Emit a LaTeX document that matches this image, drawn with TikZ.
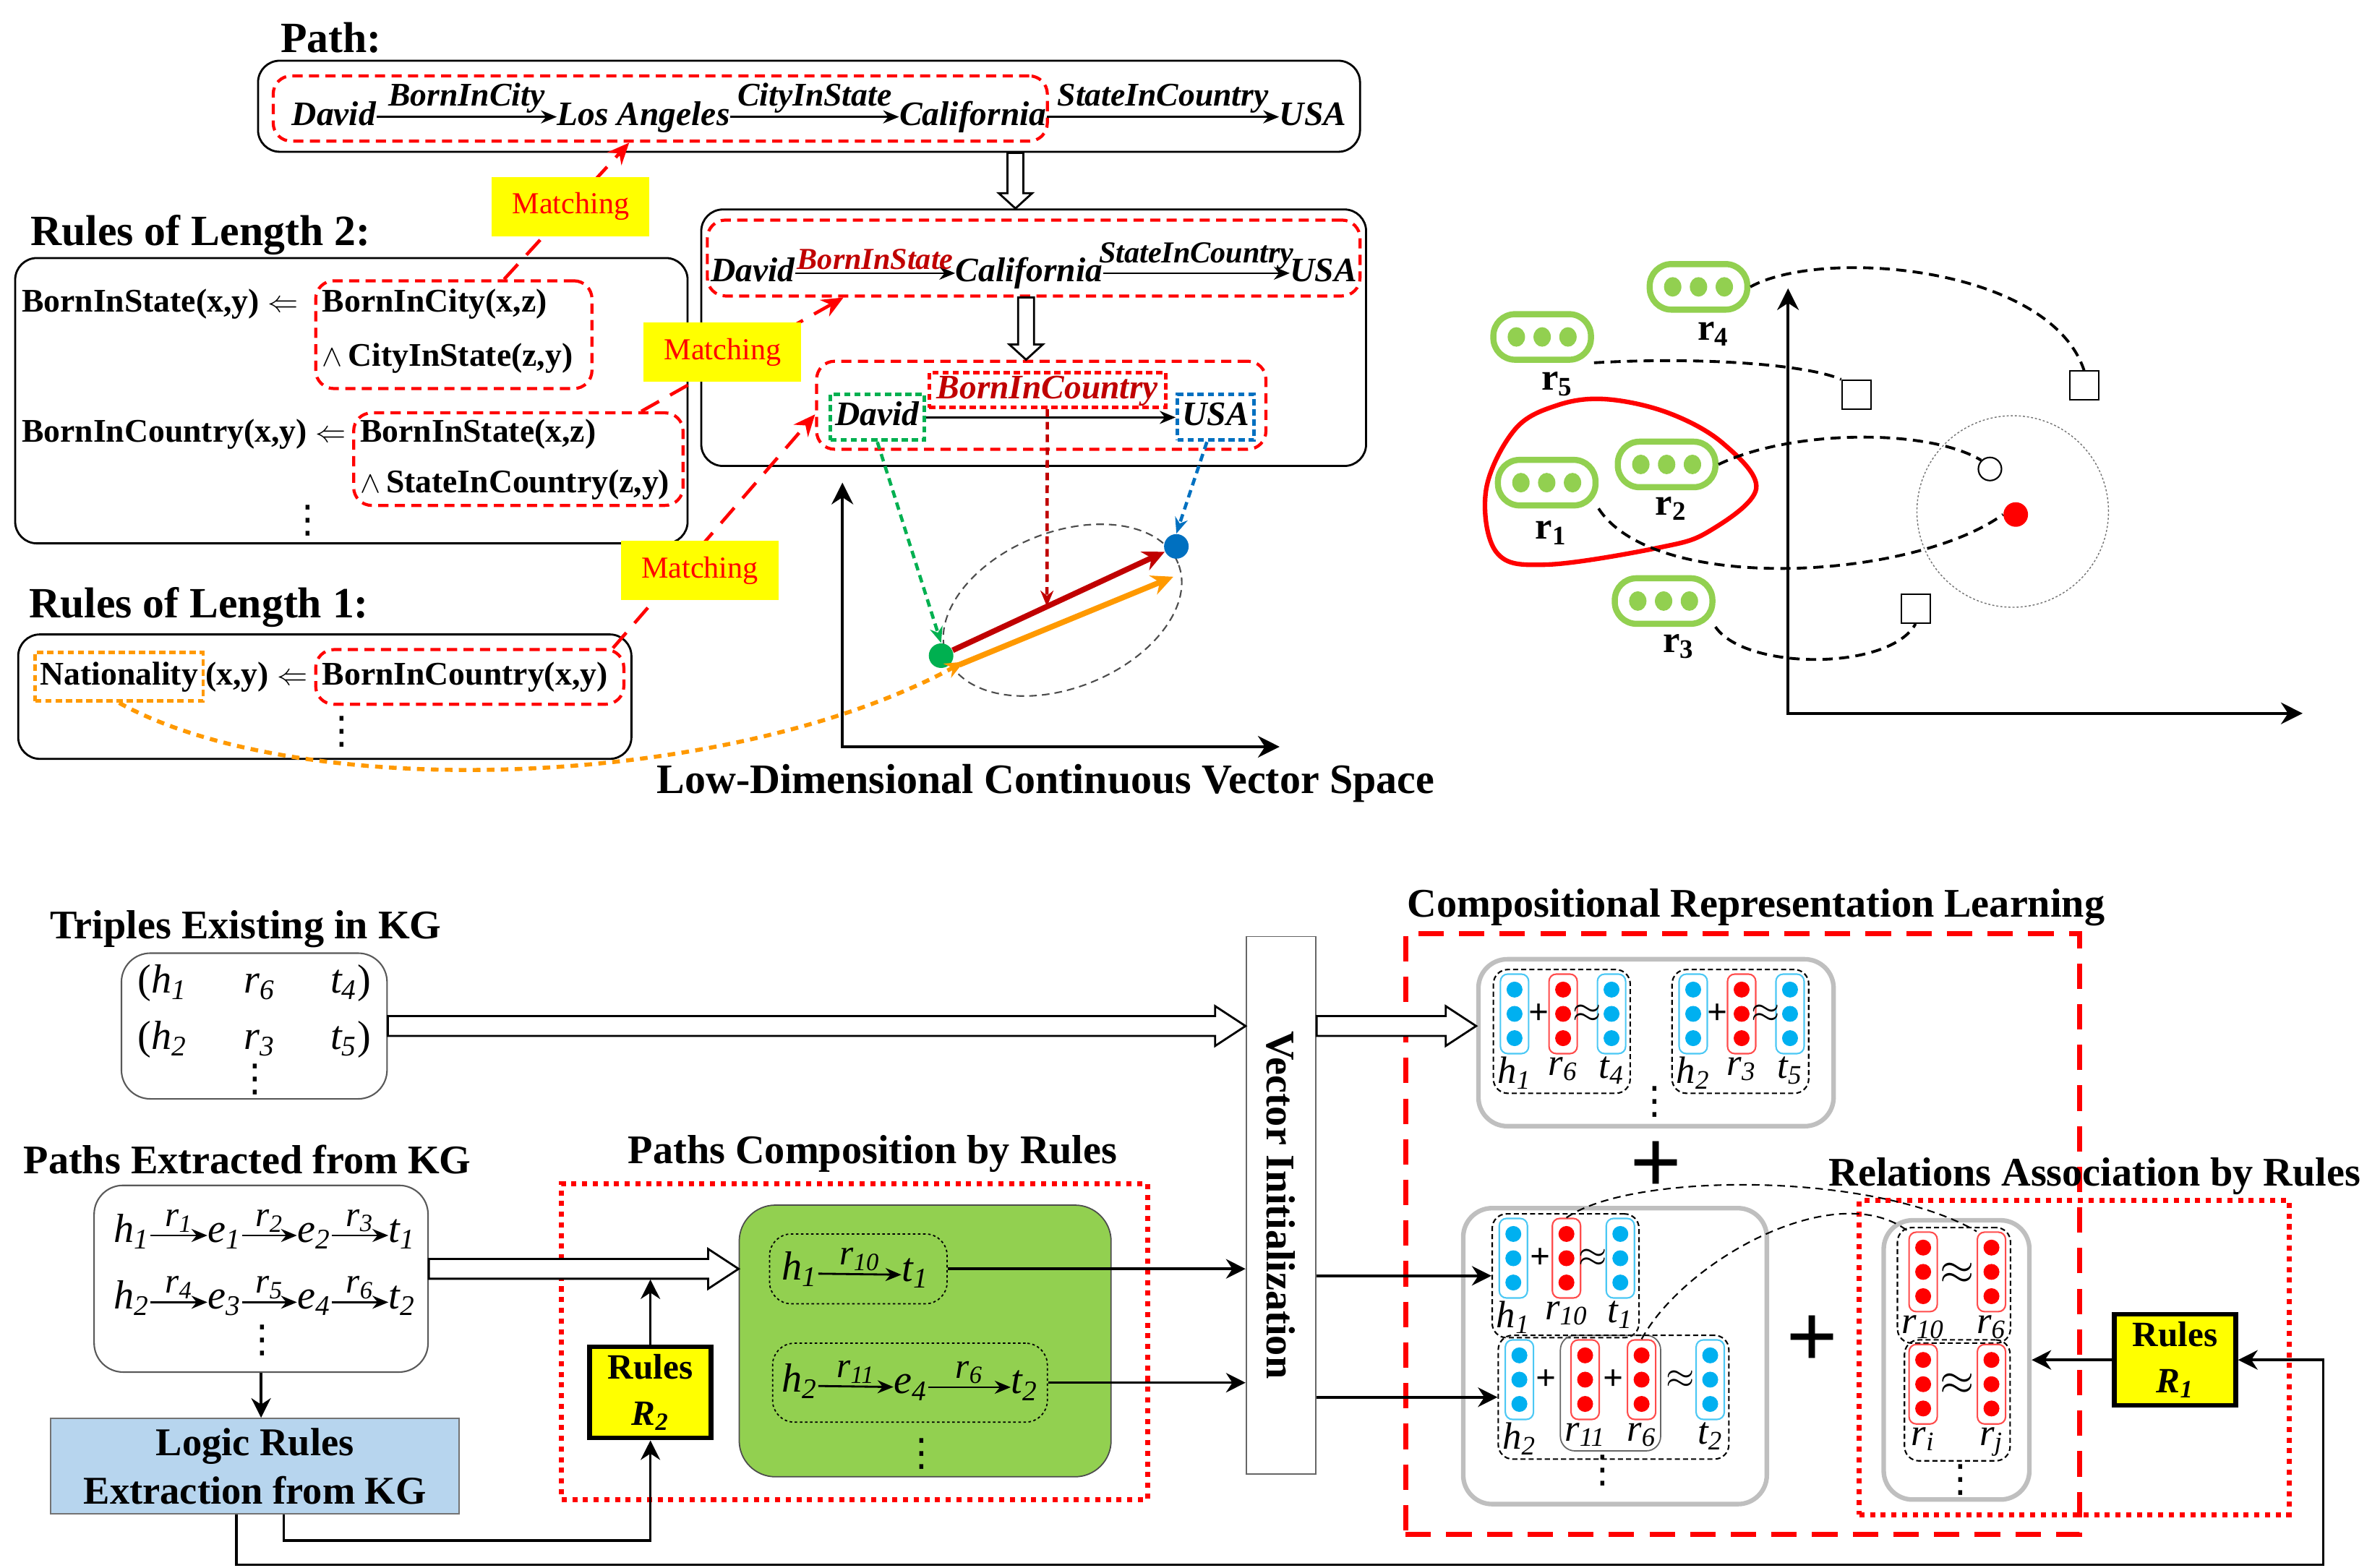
\documentclass[tikz,border=0pt]{standalone}
\usepackage{fontspec}
\setmainfont{Liberation Serif}
\newfontfamily\dotsfont{DejaVu Sans}
\usepackage{tikz}
\usetikzlibrary{positioning, shapes.geometric, calc, arrows.meta, fit}
\definecolor{kgRed}{RGB}{255, 0, 0}
\definecolor{kgDark}{RGB}{192, 0, 0}
\definecolor{kgGreen}{RGB}{146, 208, 80}
\definecolor{kgLeaf}{RGB}{0, 176, 80}
\definecolor{kgBlue}{RGB}{0, 112, 192}
\definecolor{kgCyan}{RGB}{0, 176, 240}
\definecolor{kgOrange}{RGB}{255, 153, 0}
\definecolor{kgYellow}{RGB}{255, 255, 0}
\definecolor{kgSky}{RGB}{183, 213, 238}
\definecolor{kgGray}{RGB}{191, 191, 191}

\newcommand{\ent}[2]{\textit{#1\textsubscript{#2}}}
\newcommand{\vd}{{\dotsfont\mdseries\upshape ⋮}}
% block arrow: from, to, half shaft, half head, head length
\newcommand{\hollowarrow}[5]{%
  \coordinate (hb) at ($(#2)!#5!(#1)$);
  \draw[hollow] ($(#1)!#3!90:(#2)$) -- ($(hb)!#3!-90:(#1)$) -- ($(hb)!#4!-90:(#1)$) -- (#2)
    -- ($(hb)!#4!90:(#1)$) -- ($(hb)!#3!90:(#1)$) -- ($(#1)!#3!-90:(#2)$) -- cycle;
}
% embedding column: name, position, colour, label
\newcommand{\embvec}[4]{%
  \node[vecbox=#3] (#1) at (#2) {};
  \foreach \k in {-1,0,1}
    \fill[#3] ($(#1)+(0,\k*16)$) circle[radius=1.1mm];
  \node[veclbl, below=0.3mm of #1] (#1l) {#4};
}
\newcommand{\dotcapsule}[2]{%
  \node[capsule] (#1) at (#2) {};
  \foreach \k in {-1,0,1}
    \fill[kgGreen] ($(#1)+(\k*17,0)$) circle[x radius=1.2mm, y radius=1.35mm];
}

\tikzset{
    base/.style={
        inner sep=0pt,
        align=center
    },
    title/.style={base, font=\fontsize{16}{18}\selectfont\bfseries},
    heading/.style={base, font=\fontsize{17}{19}\selectfont\bfseries},
    frame/.style={draw, line width=0.8pt, rounded corners=3mm, inner sep=0pt},
    soft/.style={draw=black!65, line width=0.6pt, rounded corners=4mm, inner sep=0pt},
    shell/.style={draw=kgGray, line width=1.8pt, rounded corners=4mm, inner sep=0pt},
    reddash/.style={draw=kgRed, line width=1.2pt, dash pattern=on 4pt off 2.5pt, rounded corners=2.5mm, inner sep=0pt},
    reddots/.style={draw=kgRed, line width=2pt, dash pattern=on 2pt off 2.2pt, inner sep=0pt},
    bigdash/.style={draw=kgRed, line width=2pt, dash pattern=on 10pt off 6pt, inner sep=0pt},
    fact/.style={base, font=\fontsize{13.5}{15}\selectfont\bfseries\itshape, text height=0.33cm, text depth=0.1cm},
    lbl/.style={base, font=\fontsize{13}{15}\selectfont\bfseries\itshape, anchor=south, yshift=1pt},
    horn/.style={base, font=\fontsize{13}{15}\selectfont\bfseries, text height=0.33cm, text depth=0.1cm},
    spot/.style={line width=1.4pt, dash pattern=on 2.5pt off 1.5pt, inner xsep=2pt, minimum height=0.63cm},
    sym/.style={base, font=\fontsize{16}{18}\selectfont, text height=0.3cm, text depth=0.12cm},
    slbl/.style={base, font=\fontsize{14}{16}\selectfont, anchor=south, yshift=1pt},
    veclbl/.style={base, font=\fontsize{15}{17}\selectfont},
    tag/.style={base, fill=kgYellow, text=kgRed, font=\fontsize{12}{14}\selectfont, minimum width=2.18cm, minimum height=0.82cm},
    rel/.style={-{Stealth[length=2.2mm, width=1.8mm]}, line width=0.8pt},
    arr/.style={-{Stealth[length=2.7mm, width=2.7mm]}, line width=1pt},
    axes/.style={{Stealth[length=3mm, width=3mm]}-{Stealth[length=3mm, width=3mm]}, line width=1pt},
    vec/.style={-{Stealth[length=3mm, width=2.8mm]}, line width=2.2pt},
    probe/.style={-{Stealth[length=2.2mm, width=1.8mm]}, line width=1.3pt, dash pattern=on 3pt off 2pt},
    match/.style={-{Stealth[length=3mm, width=2.6mm]}, draw=kgRed, line width=1.3pt, dash pattern=on 8pt off 5pt},
    trail/.style={-{Stealth[length=2.6mm, width=2.2mm]}, draw=kgOrange, line width=1.6pt, dash pattern=on 3pt off 2.5pt},
    link/.style={line width=1.1pt, dash pattern=on 4pt off 2.5pt},
    thinlink/.style={line width=0.6pt, dash pattern=on 3pt off 2pt},
    hollow/.style={draw, fill=white, line width=0.8pt, line join=miter},
    pointdot/.style={circle, inner sep=0pt, minimum size=3.4mm},
    capsule/.style={draw=kgGreen, fill=white, line width=2.4pt, rounded corners=3mm, minimum width=13.5mm, minimum height=6.3mm, inner sep=0pt},
    square/.style={draw, line width=0.6pt, minimum size=4mm, inner sep=0pt, fill=white},
    vecbox/.style={draw=#1!70, line width=0.6pt, rounded corners=1mm, minimum width=3.9mm, minimum height=11mm, inner sep=0pt},
    grp/.style={draw, line width=0.6pt, dash pattern=on 2pt off 1.2pt, rounded corners=2mm, inner sep=1.5pt},
    innerdot/.style={draw, line width=0.5pt, dash pattern=on 1pt off 1pt, rounded corners=3mm, inner sep=0pt},
    greenbox/.style={draw=black!70, fill=kgGreen, line width=0.5pt, rounded corners=5mm, inner sep=0pt},
    rulebox/.style={base, draw, fill=kgYellow, line width=1.8pt, minimum width=16.8mm, minimum height=12.6mm, font=\fontsize{14}{18}\selectfont\bfseries},
    logic/.style={base, draw=black!55, fill=kgSky, line width=0.6pt, minimum width=56.5mm, minimum height=13.2mm, font=\fontsize{15.5}{19}\selectfont\bfseries},
    bigplus/.style={base, font=\fontsize{36}{36}\selectfont\bfseries},
    op/.style={base, font=\fontsize{14}{15}\selectfont\bfseries},
    rname/.style={base, font=\fontsize{15}{17}\selectfont\bfseries},
    vdot/.style={base, font=\fontsize{15}{15}\selectfont}
}

\begin{document}
\begin{tikzpicture}[x=0.021cm, y=-0.021cm]
  \useasboundingbox (0,0) rectangle (1568,1033);

  % path and what it composes into
  \node[heading] (pathtitle) at (218,25) {Path:};
  \node[frame, fit={(170,40) (896,100)}] (pathbox) {};
  \node[reddash, fit={(180,50) (690,93)}] (pathred) {};
  \node[fact] (pDavid) at (220,77) {David};
  \node[fact] (pLA) at (424,77) {Los Angeles};
  \node[fact] (pCal) at (641,77) {California};
  \node[fact] (pUSA) at (865,77) {USA};
  \draw[rel] (pDavid) -- node[lbl] {BornInCity} (pLA);
  \draw[rel] (pLA) -- node[lbl] {CityInState} (pCal);
  \draw[rel] (pCal) -- node[lbl] {StateInCountry} (pUSA);

  \node[frame, fit={(462,138) (900,307)}] (midbox) {};
  \node[reddash, fit={(466,145) (896,195)}] (midred) {};
  \node[fact] (mDavid) at (496,180) {David};
  \node[fact] (mCal) at (678,180) {California};
  \node[fact] (mUSA) at (872,180) {USA};
  \draw[rel] (mDavid) -- node[lbl, font=\fontsize{12}{14}\selectfont\bfseries\itshape, text=kgDark] {BornInState} (mCal);
  \draw[rel] (mCal) -- node[lbl, font=\fontsize{12}{14}\selectfont\bfseries\itshape] {StateInCountry} (mUSA);

  \node[reddash, fit={(538,238) (834,296)}] (lowred) {};
  \node[fact, spot, draw=kgLeaf] (lDavid) at (578,275) {David};
  \node[fact, spot, draw=kgRed, text=kgDark, minimum height=0.48cm, inner xsep=3pt] (lBIC) at (690,257) {BornInCountry};
  \node[fact, spot, draw=kgBlue] (lUSA) at (801,275) {USA};
  \draw[rel] (lDavid) -- (lUSA);

  \coordinate (d1s) at (pathbox.south -| 669,0);
  \coordinate (d1e) at (midbox.north -| 669,0);
  \hollowarrow{d1s}{d1e}{1.1mm}{2.3mm}{2.1mm}
  \coordinate (d2s) at (midred.south -| 676,0);
  \coordinate (d2e) at (lowred.north -| 676,0);
  \hollowarrow{d2s}{d2e}{1.1mm}{2.3mm}{2.1mm}

  % vector space
  \coordinate (vy) at (555,318);
  \coordinate (vx) at (843,492);
  \draw[axes] (vy) |- (vx);
  \node[draw=black!70, ellipse, rotate=22, thinlink, minimum width=34.5mm, minimum height=21.5mm, inner sep=0pt] (cluster) at (700,402) {};
  \node[pointdot, fill=kgLeaf] (gdot) at (620,432) {};
  \node[pointdot, fill=kgBlue] (bdot) at (775,360) {};
  \draw[vec, kgDark] (gdot) -- (bdot);
  \draw[vec, kgOrange] ($(gdot)+(12,6)$) -- ($(bdot)+(-2,20)$);
  \coordinate (rvhit) at ($(gdot)!0.45!(bdot)$);
  \draw[probe, kgLeaf] (lDavid.south) -- (gdot.north);
  \draw[probe, kgDark] (lBIC.south) -- (rvhit);
  \draw[probe, kgBlue] (lUSA.250) -- (bdot.north);
  \node[title, font=\fontsize{16.5}{18}\selectfont\bfseries] (vslabel) at (689,516) {Low-Dimensional Continuous Vector Space};

  % rules
  \node[heading] (r2title) at (132,155) {Rules of Length 2:};
  \node[frame, fit={(10,170) (453,358)}] (r2box) {};
  \node[horn, anchor=west] (bis) at (14,200) {BornInState(x,y) $\Leftarrow$};
  \node[horn, anchor=west] (bic) at (212,200) {BornInCity(x,z)};
  \node[horn, anchor=west] (cis) at (212,236) {$\wedge$\,CityInState(z,y)};
  \node[reddash, fit={(208,185) (390,256)}] (r2a) {};
  \node[horn, anchor=west] (bcn) at (14,286) {BornInCountry(x,y) $\Leftarrow$};
  \node[horn, anchor=west] (bis2) at (237,286) {BornInState(x,z)};
  \node[horn, anchor=west] (sic) at (237,319) {$\wedge$\,StateInCountry(z,y)};
  \node[reddash, fit={(233,272) (450,333)}] (r2b) {};
  \node[vdot] (r2dots) at (203,343) {\vd};

  \node[heading] (r1title) at (131,400) {Rules of Length 1:};
  \node[frame, fit={(12,418) (416,500)}] (r1box) {};
  \node[horn, anchor=west, draw=kgOrange, spot, inner xsep=2pt, minimum height=0.67cm] (nat) at (22,446) {Nationality};
  \node[horn, anchor=west] (natxy) at (nat.east) {(x,y) $\Leftarrow$};
  \node[horn, anchor=west] (bcn1) at (212,446) {BornInCountry(x,y)};
  \node[reddash, fit={(208,428) (411,464)}] (r1a) {};
  \node[vdot] (r1dots) at (225,482) {\vd};

  \draw[match] ($(r2a.north west)!0.68!(r2a.north east)$) -- ($(pathred.south west)!0.46!(pathred.south east)$);
  \draw[match] ($(r2b.north west)!0.87!(r2b.north east)$) -- ($(midred.south west)!0.21!(midred.south east)$);
  \draw[match] ($(r1a.north west)!0.96!(r1a.north east)$) -- ($(lowred.north west)!0.6!(lowred.south west)$);
  \node[tag] (m1) at (376,136) {Matching};
  \node[tag] (m2) at (476,232) {Matching};
  \node[tag] (m3) at (461,376) {Matching};
  \draw[trail] (nat.south) .. controls (200,530) and (480,520) .. ($(gdot)+(15,4)$);

  % relation embeddings
  \coordinate (sy) at (1178,190);
  \coordinate (sx) at (1517,470);
  \draw[axes] (sy) |- (sx);
  \draw[kgRed, line width=1.8pt] plot[smooth cycle, tension=0.6] coordinates {(1026,267) (1058,263) (1099,272) (1135,292) (1157,322) (1126,350) (1092,361) (1019,372) (986,364) (979,323) (998,283)};
  \node[draw=black!55, circle, minimum size=26.5mm, line width=0.4pt, dash pattern=on 0.8pt off 0.8pt, inner sep=0pt] (halo) at (1326,337) {};
  \dotcapsule{c4}{1119,189}
  \dotcapsule{c5}{1016,222}
  \dotcapsule{c2}{1098,306}
  \dotcapsule{c1}{1019,318}
  \dotcapsule{c3}{1096,396}
  \node[rname] (n4) at ($(c4)+(10,31)$) {r\textsubscript{4}};
  \node[rname] (n5) at ($(c5)+(10,31)$) {r\textsubscript{5}};
  \node[rname] (n2) at ($(c2)+(3,29)$) {r\textsubscript{2}};
  \node[rname] (n1) at ($(c1)+(3,33)$) {r\textsubscript{1}};
  \node[rname] (n3) at ($(c3)+(10,30)$) {r\textsubscript{3}};
  \node[square] (sq4) at (1373,254) {};
  \node[square] (sq5) at (1223,260) {};
  \node[square] (sq3) at (1262,401) {};
  \node[draw, circle, line width=0.6pt, minimum size=3.2mm, inner sep=0pt] (hole) at (1311,309) {};
  \node[pointdot, fill=kgRed] (hit) at (1328,339) {};
  \draw[link] (c4.east) .. controls (1200,163) and (1350,175) .. (sq4.north);
  \draw[link] (c5.south east) .. controls (1120,235) and (1190,240) .. (sq5.north west);
  \draw[link] (c2.east) .. controls (1180,283) and (1270,282) .. (hole.north west);
  \draw[link] (c1.south east) .. controls (1090,392) and (1260,382) .. (hit.west);
  \draw[link] (c3.south east) .. controls (1150,442) and (1245,442) .. (sq3.south);

  % triples and paths from the KG
  \node[title] (trtitle) at (162,612) {Triples Existing in KG};
  \node[soft, fit={(80,628) (255,724)}] (tribox) {};
  \node[sym] (t11) at (107,650) {(\ent{h}{1}};
  \node[sym] (t12) at (171,650) {\ent{r}{6}};
  \node[sym] (t13) at (231,650) {\ent{t}{4})};
  \node[sym] (t21) at (107,687) {(\ent{h}{2}};
  \node[sym] (t22) at (171,687) {\ent{r}{3}};
  \node[sym] (t23) at (231,687) {\ent{t}{5})};
  \node[vdot] (trdots) at (168,711) {\vd};

  \node[title] (pxtitle) at (163,764) {Paths Extracted from KG};
  \node[soft, fit={(62,781) (282,904)}] (pxbox) {};
  \node[sym] (x1) at (87,814) {\ent{h}{1}};
  \node[sym] (x2) at (148,814) {\ent{e}{1}};
  \node[sym] (x3) at (207,814) {\ent{e}{2}};
  \node[sym] (x4) at (265,814) {\ent{t}{1}};
  \draw[rel] (x1) -- node[slbl] {\ent{r}{1}} (x2);
  \draw[rel] (x2) -- node[slbl] {\ent{r}{2}} (x3);
  \draw[rel] (x3) -- node[slbl] {\ent{r}{3}} (x4);
  \node[sym] (y1) at (87,858) {\ent{h}{2}};
  \node[sym] (y2) at (148,858) {\ent{e}{3}};
  \node[sym] (y3) at (207,858) {\ent{e}{4}};
  \node[sym] (y4) at (265,858) {\ent{t}{2}};
  \draw[rel] (y1) -- node[slbl] {\ent{r}{4}} (y2);
  \draw[rel] (y2) -- node[slbl] {\ent{r}{5}} (y3);
  \draw[rel] (y3) -- node[slbl] {\ent{r}{6}} (y4);
  \node[vdot] (pxdots) at (173,883) {\vd};

  \node[logic] (logic) at (168,966) {Logic Rules\\Extraction from KG};
  \draw[arr] (pxbox.south) -- (pxbox.south |- logic.north);

  % paths composition
  \node[title] (pctitle) at (575,760) {Paths Composition by Rules};
  \node[reddots, fit={(370,780) (756,988)}] (pcbox) {};
  \node[greenbox, fit={(487,794) (732,973)}] (gbox) {};
  \node[innerdot, fit={(507,813) (624,859)}] (ip1) {};
  \node[sym] (q1) at (527,839) {\ent{h}{1}};
  \node[sym] (q2) at (603,840) {\ent{t}{1}};
  \draw[rel] (q1) -- node[slbl] {\ent{r}{10}} (q2);
  \node[innerdot, fit={(509,885) (690,937)}] (ip2) {};
  \node[sym] (q3) at (527,913) {\ent{h}{2}};
  \node[sym] (q4) at (600,914) {\ent{e}{4}};
  \node[sym] (q5) at (675,914) {\ent{t}{2}};
  \draw[rel] (q3) -- node[slbl] {\ent{r}{11}} (q4);
  \draw[rel] (q4) -- node[slbl] {\ent{r}{6}} (q5);
  \node[vdot] (gdots) at (607,958) {\vd};
  \node[rulebox] (R2) at (428.5,917.5) {Rules\\\ent{R}{2}};

  % vector initialization
  \node[draw=black!60, line width=0.5pt, fill=white, fit={(821,617) (867,971)}, inner sep=0pt] (vinit) {};
  \node[title, rotate=-90] (vinittext) at (vinit.center) {Vector Initialization};

  \coordinate (h1s) at (tribox.east);
  \coordinate (h1e) at (vinit.west |- tribox.east);
  \hollowarrow{h1s}{h1e}{1.37mm}{2.75mm}{4.2mm}
  \coordinate (h2s) at (pxbox.east |- ip1);
  \coordinate (h2e) at (gbox.west |- ip1);
  \hollowarrow{h2s}{h2e}{1.37mm}{2.75mm}{4.2mm}
  \draw[arr] (R2.north) -- ($(R2.north |- ip1)+(0,7)$);
  \draw[arr] (ip1.east) -- (ip1.east -| vinit.west);
  \draw[arr] (ip2.east) -- (ip2.east -| vinit.west);

  % compositional representation learning
  \node[title] (crtitle) at (1157,598) {Compositional Representation Learning};
  \node[bigdash, fit={(926,615) (1370,1011)}] (crbox) {};
  \node[shell, fit={(974,632) (1208,742)}] (tgb) {};
  \embvec{g1h}{997.8,668}{kgCyan}{\ent{h}{1}}
  \embvec{g1r}{1029.8,668}{kgRed}{\ent{r}{6}}
  \embvec{g1t}{1061.7,668}{kgCyan}{\ent{t}{4}}
  \node[op] (g1p) at (1014,668) {+};
  \node[op] (g1a) at (1045.5,668) {$\approx$};
  \node[grp, fit=(g1h)(g1t)(g1hl)(g1tl)] (grp1) {};
  \embvec{g2h}{1115.5,668}{kgCyan}{\ent{h}{2}}
  \embvec{g2r}{1147.4,668}{kgRed}{\ent{r}{3}}
  \embvec{g2t}{1179.3,668}{kgCyan}{\ent{t}{5}}
  \node[op] (g2p) at (1131.5,668) {+};
  \node[op] (g2a) at (1163.3,668) {$\approx$};
  \node[grp, fit=(g2h)(g2t)(g2hl)(g2tl)] (grp2) {};
  \node[vdot] (tgdots) at (1090,726) {\vd};

  \coordinate (h3s) at (vinit.east |- tribox.east);
  \coordinate (h3e) at (tgb.west |- tribox.east);
  \hollowarrow{h3s}{h3e}{1.37mm}{2.75mm}{4.2mm}

  \node[bigplus] (plusA) at (1091,769) {+};

  \node[shell, fit={(964,796) (1164,991)}] (bgb) {};
  \embvec{g3h}{997,829}{kgCyan}{\ent{h}{1}}
  \embvec{g3r}{1032,829}{kgRed}{\ent{r}{10}}
  \embvec{g3t}{1067.5,829}{kgCyan}{\ent{t}{1}}
  \node[op] (g3p) at (1014.6,829) {+};
  \node[op] (g3a) at (1049.5,829) {$\approx$};
  \node[grp, fit=(g3h)(g3t)(g3hl)(g3tl)] (grp3) {};
  \embvec{g4h}{1001,909}{kgCyan}{\ent{h}{2}}
  \embvec{g4a}{1044.3,909}{kgRed}{\ent{r}{11}}
  \embvec{g4b}{1081.5,909}{kgRed}{\ent{r}{6}}
  \embvec{g4t}{1126.7,909}{kgCyan}{\ent{t}{2}}
  \node[op] (g4p) at (1018.6,909) {+};
  \node[op] (g4q) at (1062.9,909) {+};
  \node[op] (g4e) at (1107,909) {$\approx$};
  \node[draw=black!60, line width=0.5pt, rounded corners=2mm, inner sep=1.5pt, fit=(g4a)(g4b)(g4al)(g4bl)] (pair4) {};
  \node[grp, fit=(g4h)(g4t)(g4hl)(g4tl)] (grp4) {};
  \node[vdot] (bgdots) at (1056,969) {\vd};
  \draw[arr] (vinit.east |- grp3.west) -- (grp3.west);
  \draw[arr] (vinit.east |- grp4.west) -- (grp4.west);

  \node[bigplus] (plusB) at (1194,884) {+};

  % relations association
  \node[title] (ratitle) at (1380,775) {Relations Association by Rules};
  \node[reddots, fit={(1225,791) (1508,998)}] (rabox) {};
  \node[shell, fit={(1241,804) (1337,988)}] (rgb) {};
  \embvec{g5a}{1267,838}{kgRed}{\ent{r}{10}}
  \embvec{g5b}{1312,838}{kgRed}{\ent{r}{6}}
  \node[op, font=\fontsize{18}{18}\selectfont\bfseries] (g5e) at (1289.5,839) {$\approx$};
  \node[grp, fit=(g5a)(g5b)(g5al)(g5bl)] (grp5) {};
  \embvec{g6a}{1267,912}{kgRed}{\ent{r}{i}}
  \embvec{g6b}{1312,912}{kgRed}{\ent{r}{j}}
  \node[op, font=\fontsize{18}{18}\selectfont\bfseries] (g6e) at (1289.5,912) {$\approx$};
  \node[grp, fit=(g6a)(g6b)(g6al)(g6bl)] (grp6) {};
  \node[vdot] (rgdots) at (1291.6,975) {\vd};
  \node[rulebox] (R1) at (1433,896) {Rules\\\ent{R}{1}};
  \draw[arr] (R1.west) -- (R1.west -| rgb.east);

  \draw[thinlink] (g3r.north) .. controls (1075,772) and (1235,772) .. (g5b.north west);
  \draw[thinlink] (g4b.north) .. controls (1110,830) and (1210,775) .. (g5a.north west);

  % rules fed back from extraction
  \draw[arr] ($(logic.south west)!0.455!(logic.south east)$) |- ($(R1.east)+(56,135)$) |- (R1.east);
  \draw[arr] ($(logic.south west)!0.57!(logic.south east)$) |- ($(R2.south)+(0,66)$) -- (R2.south);
\end{tikzpicture}
\end{document}
